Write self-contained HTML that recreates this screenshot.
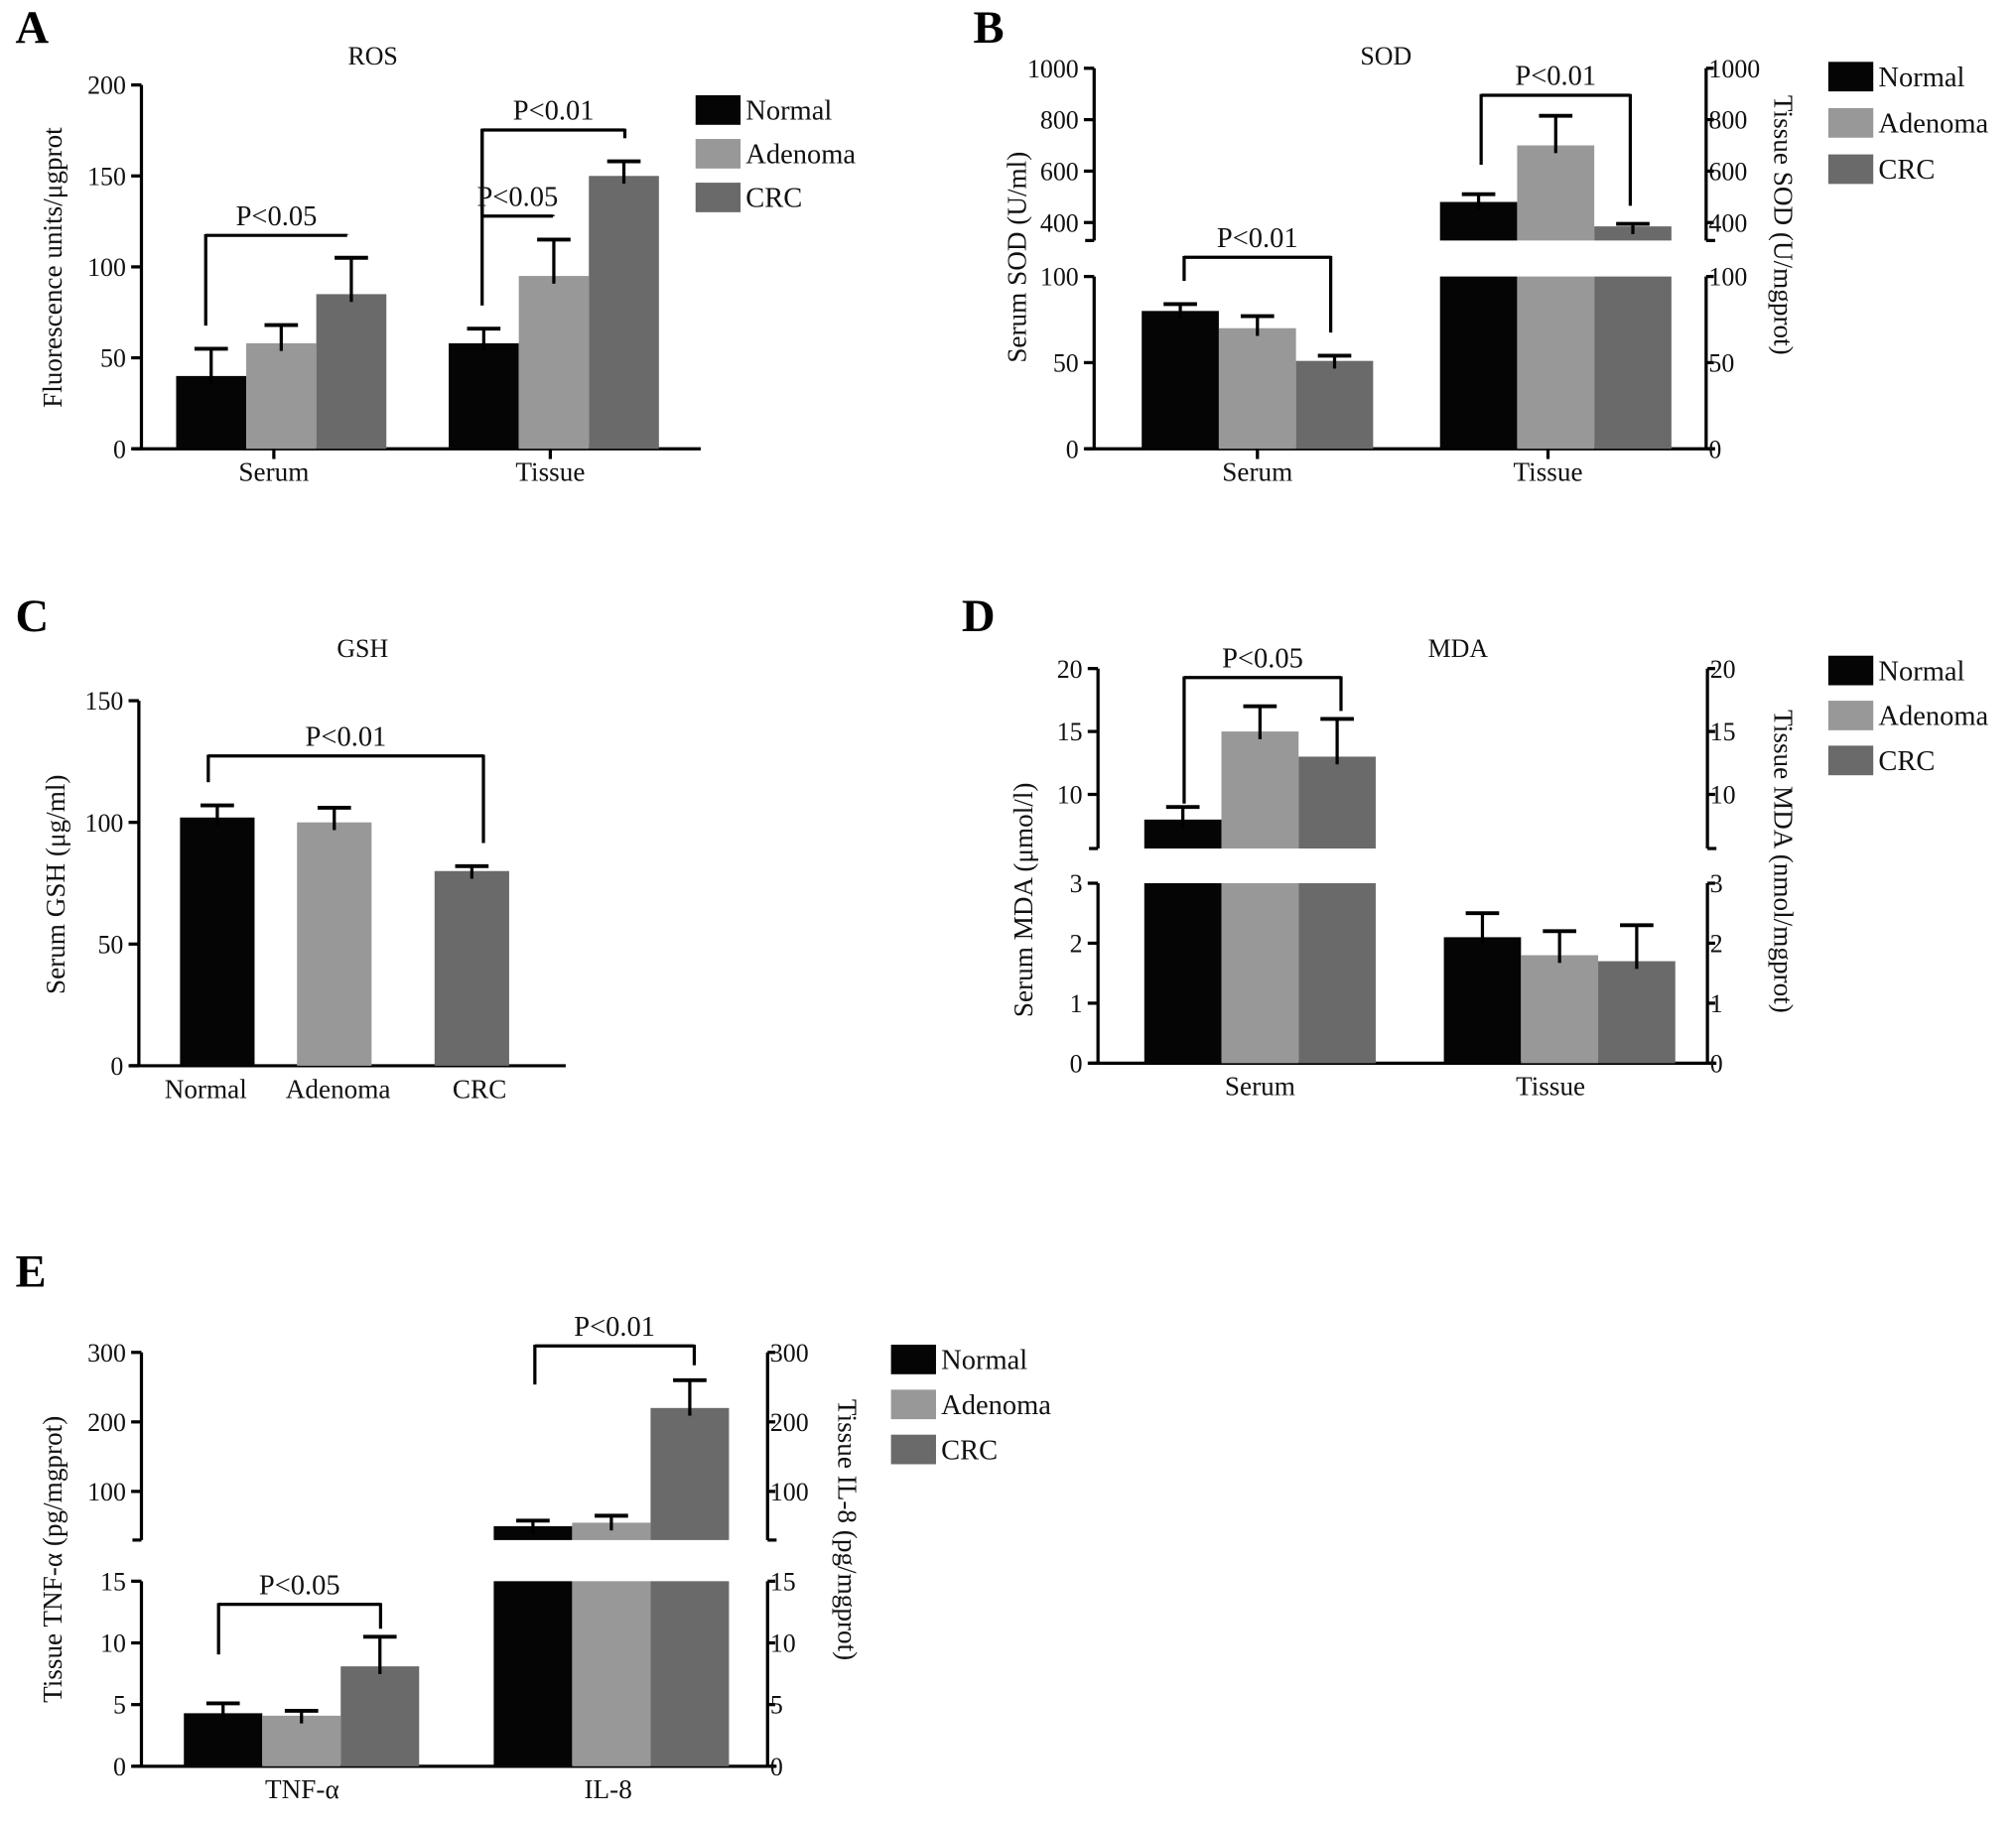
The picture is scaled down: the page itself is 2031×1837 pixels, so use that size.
<!DOCTYPE html>
<html><head><meta charset="utf-8"><style>
html,body{margin:0;padding:0;background:#fff}
svg{display:block;font-family:"Liberation Serif",serif}
</style></head><body>
<svg id="fig" width="2031" height="1837" viewBox="0 0 1568 1418" xmlns="http://www.w3.org/2000/svg"></svg>
<script>
const seriesNames=["Normal","Adenoma","CRC"];
const colors=["#050505","#989898","#6a6a6a"];
// A ROS
const rosCats=["Serum","Tissue"];
const rosMean=[[40,58,85],[58,95,150]];
const rosErr=[[55,68,105],[66,115,158]];
const rosTicks=[0,50,100,150,200];
// B SOD
const sodCats=["Serum","Tissue"];
const sodMean=[[80,70,51],[480,700,385]];
const sodErr=[[84,77,54],[510,815,395]];
const sodTicksLow=[0,50,100];
const sodTicksHigh=[400,600,800,1000];
// C GSH
const gshCats=["Normal","Adenoma","CRC"];
const gshMean=[102,100,80];
const gshErr=[107,106,82];
const gshTicks=[0,50,100,150];
// D MDA
const mdaCats=["Serum","Tissue"];
const mdaMean=[[8,15,13],[2.1,1.8,1.7]];
const mdaErr=[[9,17,16],[2.5,2.2,2.3]];
const mdaTicksLow=[0,1,2,3];
const mdaTicksHigh=[10,15,20];
// E cytokines
const cytCats=["TNF-α","IL-8"];
const cytMean=[[4.3,4.1,8.1],[50,55,220]];
const cytErr=[[5.1,4.5,10.5],[58,65,260]];
const cytTicksLow=[0,5,10,15];
const cytTicksHigh=[100,200,300];

const svg=document.getElementById('fig');
const NS="http://www.w3.org/2000/svg";
function el(tag,attrs,parent,text){const e=document.createElementNS(NS,tag);for(const k in attrs)e.setAttribute(k,attrs[k]);if(text!==undefined)e.textContent=text;(parent||svg).appendChild(e);return e;}
function txt(x,y,s,size,anchor,name,extra){const t=el('text',Object.assign({x:x,y:y,'font-size':size,'text-anchor':anchor||'middle',fill:'#111'},extra||{}),null,s);return t;}
function line(x1,y1,x2,y2,w,name){const l=el('line',{x1,y1,x2,y2,stroke:'#000','stroke-width':w||2.5});return l;}

function makeY(segs){return function(v){for(const s of segs){if(v<=s.max||s===segs[segs.length-1]){const c=Math.max(s.min,Math.min(v,s.max));return s.yBot-(c-s.min)/(s.max-s.min)*(s.yBot-s.yTop);}}};}

function panel(c){
  const y=makeY(c.segs);
  c.segs.forEach((s,i)=>{
    line(c.xL,s.yBot,c.xL,s.yTop,2.5,'left-axis-line');
    line(c.xL-7,s.yBot,c.xL,s.yBot,2.5,'axis-break-mark');
    if(c.xR){line(c.xR,s.yBot,c.xR,s.yTop,2.5,'right-axis-line');line(c.xR,s.yBot,c.xR+7,s.yBot,2.5,'axis-break-mark');}
  });
  c.ticks.forEach(v=>{
    const yy=y(v);
    line(c.xL-8,yy,c.xL,yy,2.5,'y-tick');
    txt(c.xL-12,yy+7,String(v),20,'end','y-tick-label');
    if(c.xR){line(c.xR,yy,c.xR+6,yy,2.5,'y2-tick');txt(c.xR+2,yy+7,String(v),20,'start','y2-tick-label');}
  });
  line(c.xL,c.segs[0].yBot,c.xEnd,c.segs[0].yBot,2.5,'x-axis-line');
  c.starts.forEach((gx,g)=>{
    const n=c.mean[g].length;
    for(let i=0;i<n;i++){
      const x=gx+i*c.bw;
      const v=c.mean[g][i], e=c.err[g][i];
      const col=c.colorsFor?c.colorsFor[g]:colors[i];
      c.segs.forEach(s=>{
        if(v>s.min){const y1=y(Math.min(v,s.max)),y0=s.yBot;
          const r=el('rect',{x:x,y:y1,width:c.bw,height:y0-y1,fill:col});
          
          }
      });
      const cx=x+c.bw/2, yv=y(v), ye=y(e);
      line(cx,ye,cx,yv+6,2.5,'error-bar');
      line(cx-13,ye,cx+13,ye,3,'error-cap');
    }
  });
  c.cats.forEach((name,g)=>{
    const cx=c.labelX[g];
    if(c.xTicks)line(cx,c.segs[0].yBot,cx,c.segs[0].yBot+8,2.5,'x-tick');
    txt(cx,c.segs[0].yBot+25,name,21,'middle','x-category-label');
  });
  if(c.title)txt(c.titleX,c.titleY,c.title,20,'middle','chart-title');
  txt(c.letterX,c.letterY,c.letter,36,'start','panel-letter',{'font-weight':'bold',fill:'#000'});
  txt(0,0,c.yLabel,21,'middle','y-axis-title',{transform:`translate(${c.yLabelX},${c.yLabelY}) rotate(-90)`});
  if(c.y2Label)txt(0,0,c.y2Label,21,'middle','y2-axis-title',{transform:`translate(${c.y2LabelX},${c.y2LabelY}) rotate(90)`});
  (c.brackets||[]).forEach(b=>{
    const yl=y(b.errA)-18, yr=y(b.errB)-18;
    line(b.x1,b.y,b.x2,b.y,2.5,'significance-bracket');
    line(b.x1,b.y-1,b.x1,b.legA!==undefined?b.legA:yl,2.5,'significance-bracket-leg');
    line(b.x2,b.y-1,b.x2,b.legB!==undefined?b.legB:yr,2.5,'significance-bracket-leg');
    txt((b.x1+b.x2)/2,b.y-8,b.label,22,'middle','p-value-label');
  });
  if(c.legendX){seriesNames.forEach((n,i)=>{
    const r=el('rect',{x:c.legendX,y:c.legendY+i*c.legendDy,width:35,height:23,fill:colors[i]});
    
    
    txt(c.legendX+39,c.legendY+i*c.legendDy+19,n,22,'start','legend-entry');
  });}
}

panel({key:'ros',letter:'A',letterX:12,letterY:33,title:'ROS',titleX:290,titleY:50,
  segs:[{min:0,max:200,yBot:349,yTop:66}],xL:110,xEnd:545,ticks:rosTicks,
  starts:[137,349],bw:54.5,mean:rosMean,err:rosErr,cats:rosCats,labelX:[213,428],xTicks:true,
  yLabel:'Fluorescence units/μgprot',yLabelX:48,yLabelY:208,
  brackets:[{x1:160,x2:270,y:183,errA:rosErr[0][0],errB:rosErr[0][2],label:'P<0.05'},
            {x1:375,x2:486,y:101,errA:rosErr[1][0],errB:rosErr[1][2],label:'P<0.01'},
            {x1:375,x2:430,y:168,errA:rosErr[1][0],errB:rosErr[1][1],label:'P<0.05',legA:101}],
  legendX:541,legendY:74,legendDy:34});

panel({key:'sod',letter:'B',letterX:757,letterY:33,title:'SOD',titleX:1078,titleY:50,
  segs:[{min:0,max:100,yBot:349,yTop:215},{min:330,max:1000,yBot:187,yTop:53}],
  xL:851,xR:1327,xEnd:1327,ticks:sodTicksLow.concat(sodTicksHigh),
  starts:[888,1120],bw:60,mean:sodMean,err:sodErr,cats:sodCats,labelX:[978,1204],xTicks:true,
  yLabel:'Serum SOD (U/ml)',yLabelX:798,yLabelY:200,y2Label:'Tissue SOD (U/mgprot)',y2LabelX:1380,y2LabelY:175,
  brackets:[{x1:921,x2:1035,y:200,errA:sodErr[0][0],errB:sodErr[0][2],label:'P<0.01'},
            {x1:1152,x2:1268,y:74,errA:sodErr[1][0],errB:sodErr[1][2],label:'P<0.01',legA:128,legB:160}],
  legendX:1422,legendY:48,legendDy:36});

panel({key:'gsh',letter:'C',letterX:12,letterY:491,title:'GSH',titleX:282,titleY:511,
  segs:[{min:0,max:150,yBot:829,yTop:545}],xL:108,xEnd:440,ticks:gshTicks,
  starts:[140,231,338],bw:58,mean:gshMean.map(v=>[v]),err:gshErr.map(v=>[v]),colorsFor:colors,
  cats:gshCats,labelX:[160,263,373],xTicks:false,
  yLabel:'Serum GSH (μg/ml)',yLabelX:50,yLabelY:688,
  brackets:[{x1:162,x2:376,y:588,errA:gshErr[0],errB:gshErr[2],label:'P<0.01'}]});

panel({key:'mda',letter:'D',letterX:748,letterY:491,title:'MDA',titleX:1134,titleY:511,
  segs:[{min:0,max:3,yBot:827,yTop:687},{min:5.7,max:20,yBot:660,yTop:520}],
  xL:854,xR:1328,xEnd:1328,ticks:mdaTicksLow.concat(mdaTicksHigh),
  starts:[890,1123],bw:60,mean:mdaMean,err:mdaErr,cats:mdaCats,labelX:[980,1206],xTicks:false,
  yLabel:'Serum MDA (μmol/l)',yLabelX:803,yLabelY:700,y2Label:'Tissue MDA (nmol/mgprot)',y2LabelX:1380,y2LabelY:670,
  brackets:[{x1:921,x2:1043,y:527,errA:mdaErr[0][0],errB:mdaErr[0][2],label:'P<0.05',legA:625,legB:553}],
  legendX:1422,legendY:510,legendDy:35});

panel({key:'cyt',letter:'E',letterX:12,letterY:1001,title:'',titleX:0,titleY:0,
  segs:[{min:0,max:15,yBot:1374,yTop:1230},{min:30,max:300,yBot:1198,yTop:1052}],
  xL:110,xR:597,xEnd:597,ticks:cytTicksLow.concat(cytTicksHigh),
  starts:[143,384],bw:61,mean:cytMean,err:cytErr,cats:cytCats,labelX:[235,473],xTicks:false,
  yLabel:'Tissue TNF-α (pg/mgprot)',yLabelX:48,yLabelY:1213,y2Label:'Tissue IL-8 (pg/mgprot)',y2LabelX:652,y2LabelY:1190,
  brackets:[{x1:170,x2:296,y:1248,errA:cytErr[0][0],errB:cytErr[0][2],label:'P<0.05',legA:1287,legB:1267},
            {x1:416,x2:540,y:1047,errA:cytErr[1][0],errB:cytErr[1][2],label:'P<0.01',legA:1077,legB:1062}],
  legendX:693,legendY:1046,legendDy:35});
</script>
</body></html>
